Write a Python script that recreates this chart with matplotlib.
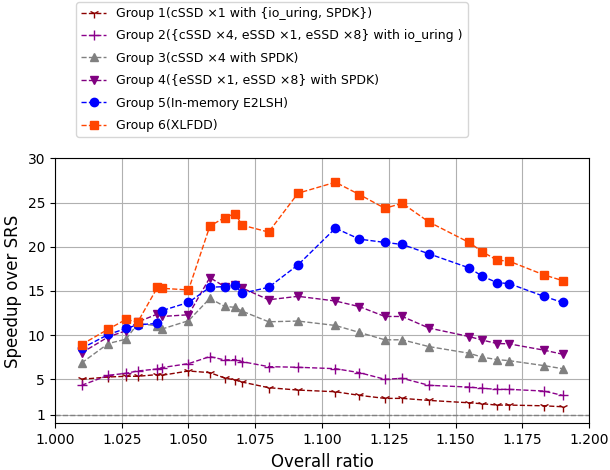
import matplotlib
matplotlib.use('Agg')
import matplotlib.pyplot as plt

# overall ratio (x) shared by all groups
ratio = [1.010, 1.020, 1.0266, 1.031, 1.0384, 1.040, 1.050, 1.058, 1.0635, 1.0675, 1.070, 1.080,
         1.091, 1.105, 1.114, 1.1235, 1.130, 1.140, 1.155, 1.160, 1.1655, 1.170, 1.183, 1.190]

g1 = [5.0, 5.26, 5.34, 5.34, 5.53, 5.45, 5.94, 5.75, 5.15, 4.92, 4.69, 4.05,
      3.78, 3.59, 3.18, 2.84, 2.84, 2.61, 2.34, 2.23, 2.08, 2.08, 2.0, 1.89]
g2 = [4.32, 5.45, 5.68, 5.94, 6.17, 6.32, 6.77, 7.57, 7.19, 7.23, 7.0, 6.43,
      6.36, 6.2, 5.75, 5.0, 5.11, 4.32, 4.12, 3.98, 3.86, 3.86, 3.67, 3.18]
g3 = [6.85, 9.05, 9.54, 11.3, 11.06, 10.68, 11.63, 14.16, 13.25, 13.14, 12.72, 11.51,
      11.59, 11.09, 10.3, 9.47, 9.47, 8.7, 7.95, 7.5, 7.23, 7.11, 6.55, 6.2]
g4 = [7.99, 9.8, 10.49, 11.48, 12.39, 12.11, 12.3, 16.51, 15.49, 15.72, 15.34, 14.0,
      14.39, 13.86, 13.22, 12.11, 12.11, 10.8, 9.84, 9.43, 9.05, 9.01, 8.3, 7.84]
g5 = [8.5, 10.07, 10.75, 11.17, 11.32, 12.76, 13.7, 15.41, 15.49, 15.64, 14.73, 15.41,
      17.95, 22.1, 20.86, 20.49, 20.26, 19.2, 17.61, 16.66, 15.94, 15.83, 14.39, 13.7]
g6 = [8.93, 10.68, 11.77, 11.48, 15.41, 15.3, 15.11, 22.34, 23.3, 23.75, 22.45, 21.66,
      26.06, 27.3, 25.9, 24.35, 24.92, 22.8, 20.49, 19.43, 18.48, 18.37, 16.82, 16.17]

labels = ['Group 1(cSSD \u00d71 with {io_uring, SPDK})',
          'Group 2({cSSD \u00d74, eSSD \u00d71, eSSD \u00d78} with io_uring )',
          'Group 3(cSSD \u00d74 with SPDK)',
          'Group 4({eSSD \u00d71, eSSD \u00d78} with SPDK)',
          'Group 5(In-memory E2LSH)',
          'Group 6(XLFDD)']
colors = ['darkred', 'darkmagenta', 'gray', 'purple', 'blue', 'orangered']
markers = ['1', '+', '^', 'v', 'o', 's']

fig = plt.figure(figsize=(6.1, 4.7), dpi=100)
ax = fig.add_axes([0.09, 0.099, 0.876, 0.564])

for ys, lab, c, m in zip([g1, g2, g3, g4, g5, g6], labels, colors, markers):
    ax.plot(ratio, ys, linestyle='--', linewidth=1, color=c, marker=m, markersize=7 if m in '1+' else 6,
            label=lab)

ax.axhline(1, color='gray', linestyle='--', linewidth=1)
ax.set_xlim(1.0, 1.2)
ax.set_ylim(0, 30)
ax.set_xticks([1.0, 1.025, 1.05, 1.075, 1.1, 1.125, 1.15, 1.175, 1.2])
ax.set_xticklabels(['1.000', '1.025', '1.050', '1.075', '1.100', '1.125', '1.150', '1.175', '1.200'])
ax.set_yticks([1, 5, 10, 15, 20, 25, 30])
ax.tick_params(labelsize=10)
ax.grid(True, color='#b0b0b0', linewidth=0.8)
ax.set_xlabel('Overall ratio', fontsize=12)
ax.set_ylabel('Speedup over SRS', fontsize=12)

fig.legend(loc='upper left', bbox_to_anchor=(0.1246, 0.9957), borderaxespad=0,
           fontsize=9, labelspacing=0.75)

fig.savefig('out.png', dpi=100)
